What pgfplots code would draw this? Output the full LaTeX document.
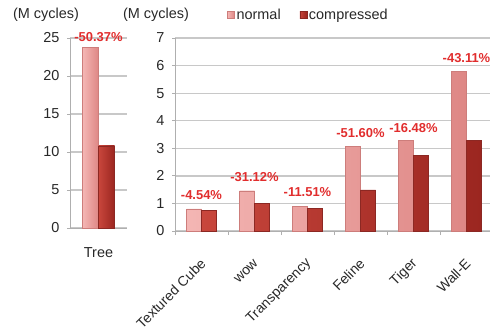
\documentclass[border=0pt]{standalone}
\usepackage{pgfplots}
\pgfplotsset{compat=1.18}
\usepackage{fontspec}
\setmainfont{Liberation Sans}
\definecolor{nlight}{RGB}{244,182,180}
\definecolor{ndark}{RGB}{222,135,133}
\definecolor{nedge}{RGB}{205,125,123}
\definecolor{clight}{RGB}{200,70,60}
\definecolor{cdark}{RGB}{155,38,32}
\definecolor{cedge}{RGB}{140,40,35}
\definecolor{pct}{RGB}{225,45,45}
\definecolor{gridc}{RGB}{200,200,200}
\definecolor{axc}{RGB}{175,175,175}
\definecolor{txt}{RGB}{40,40,40}
\tikzset{
  normalbar/.style={left color=nlight, right color=ndark, draw=nedge, line width=0.4pt},
  compbar/.style={left color=clight, right color=cdark, draw=cedge, line width=0.4pt},
  pctlabel/.style={font=\bfseries\fontsize{13}{15}\selectfont, text=pct},
}
\pgfplotsset{
  common/.style={
    scale only axis,
    ybar=0pt,
    ymin=0,
    clip=false,
    axis lines*=left,
    axis line style={draw=axc, line width=1pt},
    ymajorgrids,
    grid style={draw=gridc, line width=1.3pt},
    tick style={draw=axc, line width=0.8pt},
    tick align=outside,
    major tick length=3bp,
    ticklabel style={font=\fontsize{14.5}{16}\selectfont, text=txt},
    yticklabel style={xshift=-4bp},
    /pgf/number format/assume math mode=true,
  },
}
\begin{document}
\begin{tikzpicture}
\useasboundingbox (0,0) rectangle (490bp,332bp);
\node[font=\fontsize{14.5}{16}\selectfont, text=txt] at (46bp,317bp) {(M cycles)};
\node[font=\fontsize{14.5}{16}\selectfont, text=txt] at (156bp,317bp) {(M cycles)};
% left axis
\begin{axis}[common,
  at={(70bp,104bp)}, anchor=south west,
  width=57bp, height=190bp,
  xmin=-0.5, xmax=0.5, ymax=25,
  ytick={0,5,...,25},
  xtick={0}, xticklabels={Tree},
  xtick style={draw=none},
  xticklabel style={yshift=-13bp},
  bar width=16bp]
\addplot[normalbar] coordinates {(0,23.8)};
\addplot[compbar] coordinates {(0,10.8)};
\node[pctlabel] at (axis cs:0,23.8) [yshift=10bp] {-50.37\%};
\end{axis}
% right axis
\begin{axis}[common,
  at={(175bp,101bp)}, anchor=south west,
  width=318bp, height=193bp,
  xmin=-0.5, xmax=5.5, ymax=7,
  ytick={0,1,...,7},
  xtick={0,1,2,3,4,5},
  xticklabels={Textured Cube,wow,Transparency,Feline,Tiger,Wall-E},
  major x tick style={draw=none},
  minor xtick={-0.5,0.5,1.5,2.5,3.5,4.5,5.5},
  minor tick length=4bp,
  xticklabel style={font=\fontsize{14}{16}\selectfont, xshift=4bp, yshift=-25bp, rotate=45, anchor=east},
  bar width=15bp,
  legend style={draw=none, fill=none, at={(0.1635,1.119)}, anchor=west,
    legend columns=2, font=\fontsize{14.5}{16}\selectfont, text=txt,
    inner sep=0pt},
  legend image code/.code={\path[#1] (0bp,-3.5bp) rectangle (7bp,3.5bp);},
  ]
\addplot[normalbar] coordinates {(0,0.80) (1,1.46) (2,0.90) (3,3.08) (4,3.30) (5,5.80)};
\addplot[compbar] coordinates {(0,0.76) (1,1.00) (2,0.83) (3,1.49) (4,2.75) (5,3.30)};
\legend{\makebox[61bp][l]{normal},compressed}
\node[pctlabel] at (axis cs:0,0.80) [yshift=14bp] {-4.54\%};
\node[pctlabel] at (axis cs:1,1.46) [yshift=14bp] {-31.12\%};
\node[pctlabel] at (axis cs:2,0.90) [yshift=14bp] {-11.51\%};
\node[pctlabel] at (axis cs:3,3.08) [yshift=13bp] {-51.60\%};
\node[pctlabel] at (axis cs:4,3.30) [yshift=12bp] {-16.48\%};
\node[pctlabel] at (axis cs:5,5.80) [yshift=13bp] {-43.11\%};
\end{axis}
\end{tikzpicture}
\end{document}
